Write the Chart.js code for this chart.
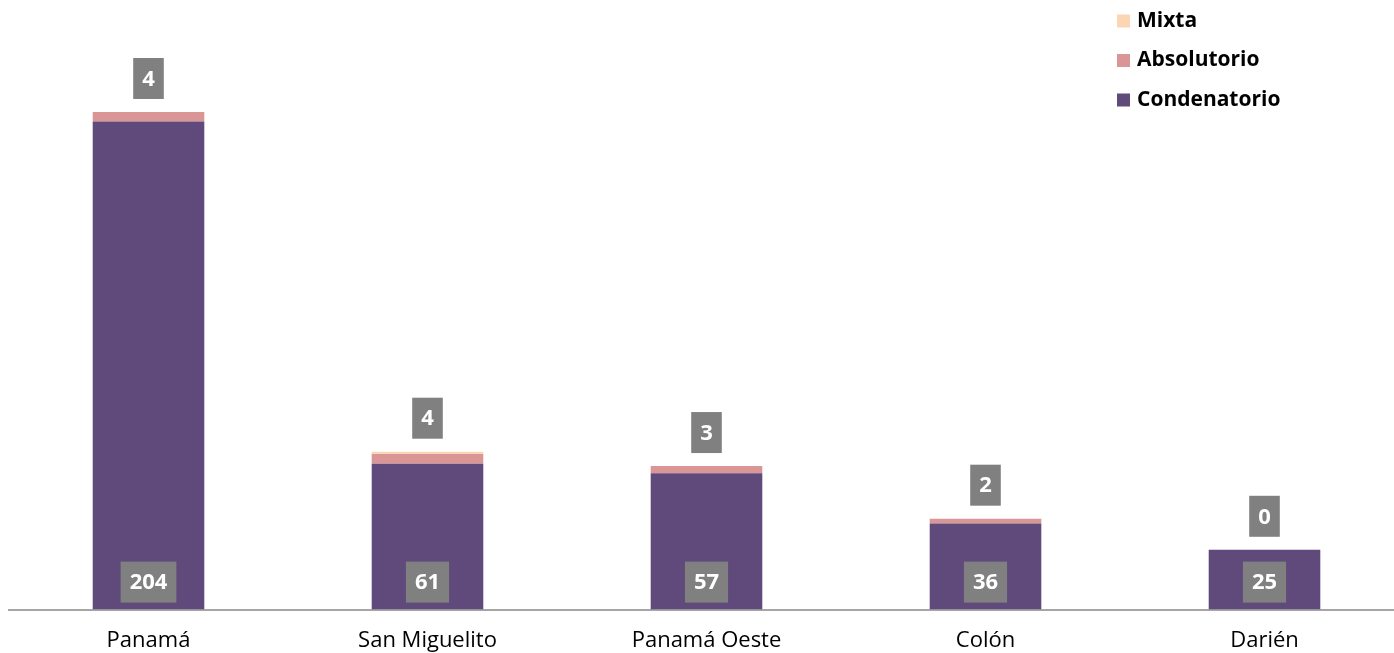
<!DOCTYPE html>
<html>
<head>
<meta charset="utf-8">
<script src="https://cdn.jsdelivr.net/npm/chart.js@4/dist/chart.umd.min.js"></script>
<style>
    html, body { margin: 0; padding: 0; background: #fff; overflow: hidden; }
    #wrap { width: 1404px; height: 672px; }
</style>
</head>
<body>
<div id="wrap"><canvas id="graficoSentencias"></canvas></div>
<script>
const regiones = ['Panamá', 'San Miguelito', 'Panamá Oeste', 'Colón', 'Darién'];
const condenatorio = [204, 61, 57, 36, 25];
const absolutorio = [4, 4, 3, 2, 0];
const mixta = [0, 1, 0, 0, 0];
const yMax = 250;

const FONT = '"Open Sans", "Noto Sans", sans-serif';

// etiquetas grises (valor condenatorio abajo, absolutorio arriba)
const etiquetas = {
    id: 'etiquetas',
    afterDatasetsDraw(chart) {
        const ctx = chart.ctx;
        const base = chart.scales.y.getPixelForValue(0);
        ctx.save();
        ctx.font = 'bold 22px ' + FONT;
        ctx.textAlign = 'center';
        ctx.textBaseline = 'middle';

        function caja(texto, x, abajo) {
            const w = ctx.measureText(texto).width + 18;
            const h = 41;
            ctx.fillStyle = '#808080';
            ctx.fillRect(x - w / 2, abajo - h, w, h);
            ctx.fillStyle = '#ffffff';
            ctx.fillText(texto, x, abajo - h / 2 + 1);
        }

        const cond = chart.getDatasetMeta(0).data;
        const abs = chart.getDatasetMeta(1).data;
        const mix = chart.getDatasetMeta(2).data;
        cond.forEach((bar, i) => {
            caja(String(condenatorio[i]), bar.x, base - 7);
            const tope = Math.min(bar.y, abs[i].y, mix[i].y);
            caja(String(absolutorio[i]), bar.x, tope - 13);
        });
        ctx.restore();
    }
};

// leyenda arriba a la derecha, en orden inverso
const leyenda = {
    id: 'leyenda',
    afterDraw(chart) {
        const ctx = chart.ctx;
        ctx.save();
        ctx.font = 'bold 21px ' + FONT;
        ctx.textBaseline = 'middle';
        const items = chart.data.datasets.slice().reverse();
        items.forEach((ds, i) => {
            const y = 21 + i * 39.5;
            ctx.fillStyle = ds.backgroundColor;
            ctx.fillRect(1117, y - 6.5, 13, 13);
            ctx.fillStyle = '#000000';
            ctx.fillText(ds.label, 1137, y);
        });
        ctx.restore();
    }
};

const ctx = document.getElementById('graficoSentencias').getContext('2d');
new Chart(ctx, {
    type: 'bar',
    data: {
        labels: regiones,
        datasets: [
            { label: 'Condenatorio', data: condenatorio, backgroundColor: '#604A7B' },
            { label: 'Absolutorio', data: absolutorio, backgroundColor: '#D99694' },
            { label: 'Mixta', data: mixta, backgroundColor: '#FCD5B5' }
        ]
    },
    options: {
        responsive: true,
        maintainAspectRatio: false,
        animation: false,
        layout: { padding: { left: 9, top: 11.5, right: 0, bottom: 0 } },
        datasets: {
            bar: { categoryPercentage: 1, barPercentage: 0.4, borderWidth: 0 }
        },
        plugins: {
            legend: { display: false },
            tooltip: { enabled: false }
        },
        scales: {
            x: {
                stacked: true,
                grid: { display: false, drawTicks: false },
                border: { display: true, color: '#A6A6A6', width: 2 },
                ticks: {
                    color: '#000000',
                    padding: 18,
                    font: { family: FONT, size: 22 }
                }
            },
            y: {
                stacked: true,
                display: false,
                min: 0,
                max: yMax
            }
        }
    },
    plugins: [etiquetas, leyenda]
});
</script>
</body>
</html>
